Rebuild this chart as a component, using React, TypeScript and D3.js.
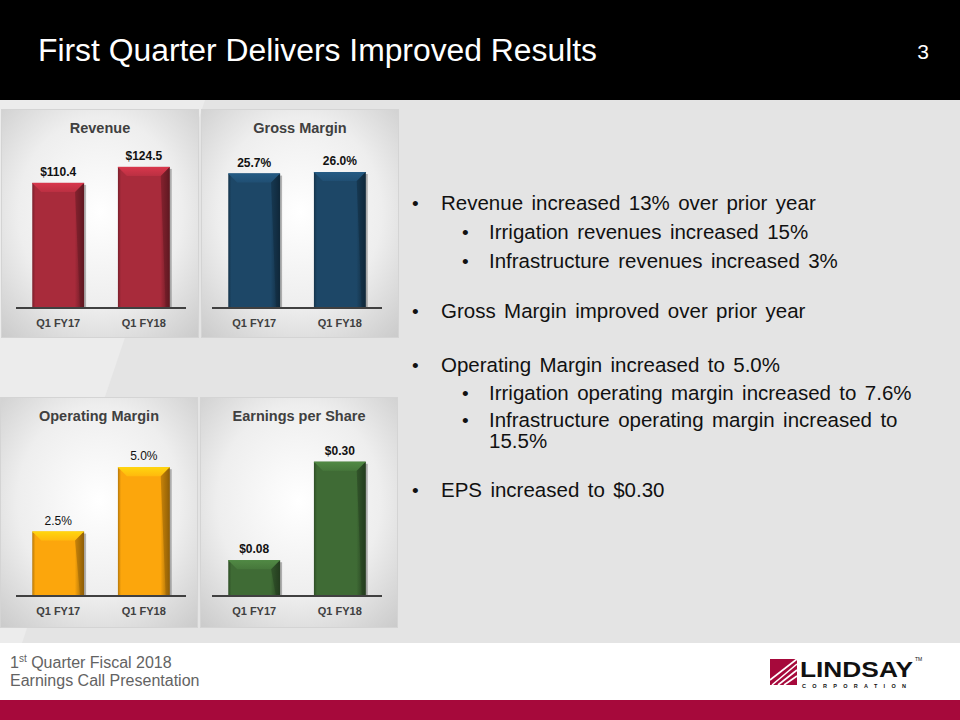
import React from "react";
import * as d3 from "d3";

const categories = ["Q1 FY17", "Q1 FY18"];
const revenue = [110.4, 124.5];
const grossMargin = [25.7, 26.0];
const operatingMargin = [2.5, 5.0];
const earningsPerShare = [0.08, 0.3];
const chartTitles = ["Revenue", "Gross Margin", "Operating Margin", "Earnings per Share"];
const axisMax = [150, 32.5, 6.6, 0.38];

const bulletLines = [
  { level: 1, text: "Revenue increased 13% over prior year" },
  { level: 2, text: "Irrigation revenues increased 15%" },
  { level: 2, text: "Infrastructure revenues increased 3%" },
  { level: 1, text: "Gross Margin improved over prior year" },
  { level: 1, text: "Operating Margin increased to 5.0%" },
  { level: 2, text: "Irrigation operating margin increased to 7.6%" },
  { level: 2, text: "Infrastructure operating margin increased to" },
  { level: 0, text: "15.5%" },
  { level: 1, text: "EPS increased to $0.30" },
];
const bulletBaselines = [210, 239, 268, 318, 372, 400, 427, 448, 497];

const FONT = "'Liberation Sans', Arial, Helvetica, sans-serif";

type ChartSpec = {
  title: string;
  values: number[];
  max: number;
  color: string;
  fmt: (v: number) => string;
  bold: boolean;
  px: number;
  py: number;
  panelX: number;
};

const charts: ChartSpec[] = [
  { title: chartTitles[0], values: revenue, max: axisMax[0], color: "#a82b3b", fmt: (v) => `$${v.toFixed(1)}`, bold: true, px: 1, py: 109, panelX: 1 },
  { title: chartTitles[1], values: grossMargin, max: axisMax[1], color: "#1d4767", fmt: (v) => `${v.toFixed(1)}%`, bold: true, px: 197, py: 109, panelX: 201 },
  { title: chartTitles[2], values: operatingMargin, max: axisMax[2], color: "#fca60c", fmt: (v) => `${v.toFixed(1)}%`, bold: false, px: 1, py: 397, panelX: 0 },
  { title: chartTitles[3], values: earningsPerShare, max: axisMax[3], color: "#3f6b35", fmt: (v) => `$${v.toFixed(2)}`, bold: true, px: 197, py: 397, panelX: 200 },
];

function Bar({ x, y, w, h, color, id }: { x: number; y: number; w: number; h: number; color: string; id: string }) {
  const c = d3.color(color)!;
  const light = c.brighter(0.7).formatHex();
  const dark = c.darker(0.9).formatHex();
  const darker = c.darker(1.6).formatHex();
  const b = Math.min(9, h / 3);
  return (
    <g>
      <defs>
        <linearGradient id={id} x1="0" x2="1" y1="0" y2="0">
          <stop offset="0" stopColor={dark} />
          <stop offset="0.06" stopColor={color} />
          <stop offset="0.82" stopColor={color} />
          <stop offset="1" stopColor={darker} />
        </linearGradient>
        <linearGradient id={id + "t"} x1="0" x2="0" y1="0" y2="1">
          <stop offset="0" stopColor={light} />
          <stop offset="1" stopColor={c.brighter(0.3).formatHex()} />
        </linearGradient>
      </defs>
      <rect x={x + 2} y={y + 2} width={w} height={h - 2} fill="rgba(0,0,0,0.28)" />
      <rect x={x} y={y} width={w} height={h} fill={`url(#${id})`} />
      <polygon
        points={`${x},${y} ${x + w},${y} ${x + w - b},${y + b} ${x + b},${y + b}`}
        fill={`url(#${id}t)`}
      />
      <line x1={x} x2={x + w} y1={y + 0.5} y2={y + 0.5} stroke={light} strokeWidth={1} />
      <polygon
        points={`${x + w},${y} ${x + w},${y + h} ${x + w - 4},${y + h} ${x + w - b},${y + b}`}
        fill={darker}
        opacity={0.45}
      />
    </g>
  );
}

function Chart({ spec, idx }: { spec: ChartSpec; idx: number }) {
  const { px, py } = spec;
  const pw = 198;
  const ph = py < 300 ? 229 : 231;
  const axisY = 199;
  const x = d3.scaleBand<string>().domain(categories).range([15, 185]).paddingInner(0.395).paddingOuter(0.19);
  const y = d3.scaleLinear().domain([0, spec.max]).range([axisY, axisY - 170]);
  const off = spec.panelX - px;
  return (
    <g transform={`translate(${px},${py})`}>
      <defs>
        <radialGradient id={`pg${idx}`} cx="0.5" cy="0.45" r="0.75">
          <stop offset="0" stopColor="#ffffff" />
          <stop offset="0.55" stopColor="#eeeeee" />
          <stop offset="1" stopColor="#c9c9c9" />
        </radialGradient>
      </defs>
      <rect x={off} y={0} width={pw} height={ph} fill={`url(#pg${idx})`} />
      <rect x={off + 0.5} y={0.5} width={pw - 1} height={ph - 1} fill="none" stroke="#d4d4d4" strokeWidth={1} />
      <text x={off + pw / 2} y={24} textAnchor="middle" fontFamily={FONT} fontWeight="bold" fontSize={14.5} fill="#404040">
        {spec.title}
      </text>
      {spec.values.map((v, i) => {
        const bx = x(categories[i])!;
        const top = y(v);
        return (
          <g key={i}>
            <Bar x={bx} y={top} w={x.bandwidth()} h={axisY - top} color={spec.color} id={`b${idx}_${i}`} />
            <text
              x={bx + x.bandwidth() / 2}
              y={top - 7}
              textAnchor="middle"
              fontFamily={FONT}
              fontWeight={spec.bold ? "bold" : "normal"}
              fontSize={12}
              fill="#111"
            >
              {spec.fmt(v)}
            </text>
          </g>
        );
      })}
      <line x1={15} x2={185} y1={axisY} y2={axisY} stroke="#404040" strokeWidth={2} />
      {categories.map((c, i) => (
        <text
          key={c}
          x={x(c)! + x.bandwidth() / 2}
          y={axisY + 19}
          textAnchor="middle"
          fontFamily={FONT}
          fontWeight="bold"
          fontSize={11}
          fill="#404040"
        >
          {c}
        </text>
      ))}
    </g>
  );
}

export default function App() {
  return (
    <svg
      width={960}
      height={720}
      viewBox="0 0 960 720"
      style={{ position: "absolute", left: 0, top: 0, display: "block" }}
    >
      <rect x={0} y={0} width={960} height={720} fill="#e4e4e4" />
      <polygon points="0,100 205,100 22,643 0,643" fill="#ececec" />
      <rect x={0} y={0} width={960} height={100} fill="#000" />
      <text x={38} y={61} fontFamily={FONT} fontSize={31} fill="#fff" textLength={559} lengthAdjust="spacingAndGlyphs">
        First Quarter Delivers Improved Results
      </text>
      <text x={923} y={59} textAnchor="middle" fontFamily={FONT} fontSize={21} fill="#fff">
        3
      </text>

      {charts.map((c, i) => (
        <Chart key={i} spec={c} idx={i} />
      ))}

      {bulletLines.map((b, i) => {
        const tx = b.level === 1 ? 441 : 489;
        const bx = b.level === 1 ? 412 : 462;
        return (
          <g key={i}>
            {b.level > 0 && (
              <text x={bx} y={bulletBaselines[i]} fontFamily={FONT} fontSize={19} fill="#111">
                •
              </text>
            )}
            <text x={tx} y={bulletBaselines[i]} fontFamily={FONT} fontSize={20.5} fill="#111" wordSpacing={2.7}>
              {b.text}
            </text>
          </g>
        );
      })}

      <rect x={0} y={643} width={960} height={58} fill="#fff" />
      <rect x={0} y={700} width={960} height={20} fill="#a6093b" />
      <text x={10} y={668} fontFamily={FONT} fontSize={16} fill="#636363">
        1<tspan fontSize={10} dy={-6}>st</tspan>
        <tspan dy={6}> Quarter Fiscal 2018</tspan>
      </text>
      <text x={10} y={686} fontFamily={FONT} fontSize={16} fill="#636363">
        Earnings Call Presentation
      </text>

      <g>
        <rect x={770} y={659} width={27} height={26} fill="#a6093b" />
        <line x1={772} y1={685} x2={797} y2={664} stroke="#fff" strokeWidth={1.6} />
        <line x1={778} y1={685} x2={797} y2={670} stroke="#fff" strokeWidth={1.6} />
        <line x1={770} y1={680} x2={797} y2={659} stroke="#fff" strokeWidth={1.6} />
        <line x1={784} y1={685} x2={797} y2={676} stroke="#fff" strokeWidth={1.6} />
        <text x={800} y={677} fontFamily={FONT} fontWeight={900} fontSize={22} fill="#111" textLength={113} lengthAdjust="spacingAndGlyphs">
          LINDSAY
        </text>
        <text x={915} y={661} fontFamily={FONT} fontSize={5} fill="#111">
          TM
        </text>
        <text x={802} y={687.5} fontFamily={FONT} fontWeight="bold" fontSize={5.5} fill="#111" textLength={104} lengthAdjust="spacing">
          CORPORATION
        </text>
      </g>
    </svg>
  );
}
